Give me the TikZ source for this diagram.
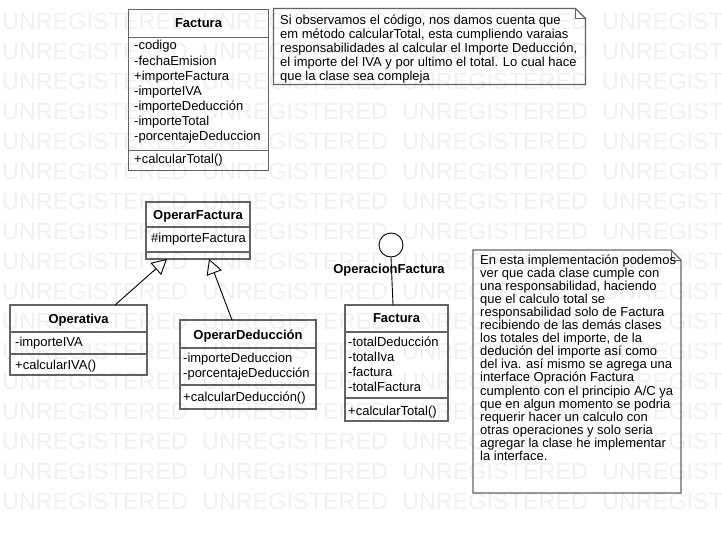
\documentclass[tikz,border=0pt]{standalone}
\usepackage{fontspec}
\setmainfont{Liberation Sans}
\usetikzlibrary{arrows.meta}
\definecolor{boxgray}{RGB}{100,100,100}
\begin{document}
\begin{tikzpicture}[x=1pt,y=-1pt,
  cls/.style={draw=boxgray, line width=1.3pt, fill=white, anchor=north west, inner sep=0pt, outer sep=0pt},
  notebox/.style={anchor=north west, inner sep=0pt, outer sep=0pt},
  notebdr/.style={draw=boxgray, line width=1.3pt, fill=white},
  sepline/.style={draw=boxgray, line width=1.3pt},
  txt/.style={anchor=base west, inner sep=0pt, font=\fontsize{13}{15}\selectfont},
  hdr/.style={anchor=base, inner sep=0pt, font=\bfseries\fontsize{13}{15}\selectfont},
  gen/.style={-{Triangle[open,fill=white,length=15pt,width=16pt]}, line width=0.9pt, black},
  lnk/.style={line width=0.9pt, black},
  wm/.style={anchor=base west, inner sep=0pt, font=\fontsize{23.4}{28}\selectfont, text=black, text opacity=0.06}]
\useasboundingbox (0,0) rectangle (722,535);
\fill[white] (0,0) rectangle (722,535);

% ---------- Factura (top) ----------
\node[cls, minimum width=140pt, minimum height=161pt] (f1) at (128.5,9.5) {};
\draw[sepline] ([yshift=-28pt]f1.north west) -- ([yshift=-28pt]f1.north east);
\draw[sepline] ([yshift=-141pt]f1.north west) -- ([yshift=-141pt]f1.north east);
\node[hdr] (f1h) at (198.5,27.5) {Factura};
\foreach \t [count=\i] in {-codigo,-fechaEmision,+importeFactura,-importeIVA,-importeDeducción,-importeTotal,-porcentajeDeduccion}
  \node[txt] (f1a\i) at (134,35+15*\i) {\t};
\node[txt] (f1m) at (134,163.5) {+calcularTotal()};

% ---------- Note 1 ----------
\node[notebox, minimum width=312pt, minimum height=76pt] (n1) at (273.5,8.5) {};
\draw[notebdr] (n1.north west) -- ([xshift=-10pt]n1.north east) -- ([yshift=-10pt]n1.north east) -- (n1.south east) -- (n1.south west) -- cycle;
\draw[boxgray, line width=0.8pt] ([xshift=-10pt]n1.north east) -- ([xshift=-10pt,yshift=-10pt]n1.north east) -- ([yshift=-10pt]n1.north east);
\foreach \t [count=\i] in {{Si observamos el código, nos damos cuenta que},{em método calcularTotal, esta cumpliendo varaias},{responsabilidades al calcular el Importe Deducción,},{el importe del IVA y por ultimo el total. Lo cual hace},{que la clase sea compleja}}
  \node[txt] (n1l\i) at (280,10.5+14*\i) {\t};

% ---------- OperarFactura ----------
\node[cls, minimum width=104pt, minimum height=57pt] (of) at (146,202) {};
\draw[sepline] ([yshift=-25pt]of.north west) -- ([yshift=-25pt]of.north east);
\draw[sepline] ([yshift=-50pt]of.north west) -- ([yshift=-50pt]of.north east);
\node[hdr] (ofh) at (198,219) {OperarFactura};
\node[txt] (ofa) at (151,242.5) {\#importeFactura};

% ---------- Operativa ----------
\node[cls, minimum width=137pt, minimum height=70pt] (opv) at (10,305) {};
\draw[sepline] ([yshift=-27pt]opv.north west) -- ([yshift=-27pt]opv.north east);
\draw[sepline] ([yshift=-49pt]opv.north west) -- ([yshift=-49pt]opv.north east);
\node[hdr] (opvh) at (78.5,323.5) {Operativa};
\node[txt] (opva) at (15,346.5) {-importeIVA};
\node[txt] (opvm) at (15,369.5) {+calcularIVA()};

% ---------- OperarDeducción ----------
\node[cls, minimum width=136pt, minimum height=89pt] (od) at (180,320) {};
\draw[sepline] ([yshift=-28pt]od.north west) -- ([yshift=-28pt]od.north east);
\draw[sepline] ([yshift=-65pt]od.north west) -- ([yshift=-65pt]od.north east);
\node[hdr] (odh) at (248,339.5) {OperarDeducción};
\node[txt] (oda1) at (183,362.5) {-importeDeduccion};
\node[txt] (oda2) at (183,377.5) {-porcentajeDeducción};
\node[txt] (odm) at (183,401.5) {+calcularDeducción()};

% ---------- Factura (bottom) ----------
\node[cls, minimum width=103pt, minimum height=116pt] (f2) at (345,305) {};
\draw[sepline] ([yshift=-27pt]f2.north west) -- ([yshift=-27pt]f2.north east);
\draw[sepline] ([yshift=-93pt]f2.north west) -- ([yshift=-93pt]f2.north east);
\node[hdr] (f2h) at (396.5,322.5) {Factura};
\foreach \t [count=\i] in {-totalDeducción,-totalIva,-factura,-totalFactura}
  \node[txt] (f2a\i) at (348,331.5+15*\i) {\t};
\node[txt] (f2m) at (348,415) {+calcularTotal()};

% ---------- Interface ----------
\node[draw=black, circle, minimum size=24pt, inner sep=0pt, line width=0.9pt, fill=white] (ifc) at (391,245) {};
\draw[lnk] (ifc.south) -- ([xshift=48pt]f2.north west);
\node[hdr] (ifl) at (389,273.5) {OperacionFactura};

% ---------- Generalizations ----------
\draw[gen] ([xshift=105pt]opv.north west) -- ([xshift=21pt]of.south west);
\draw[gen] ([xshift=52pt]od.north west) -- ([xshift=63pt]of.south west);

% ---------- Note 2 ----------
\node[notebox, minimum width=208pt, minimum height=243pt] (n2) at (473,250) {};
\draw[notebdr] (n2.north west) -- ([xshift=-10pt]n2.north east) -- ([yshift=-10pt]n2.north east) -- (n2.south east) -- (n2.south west) -- cycle;
\draw[boxgray, line width=0.8pt] ([xshift=-10pt]n2.north east) -- ([xshift=-10pt,yshift=-10pt]n2.north east) -- ([yshift=-10pt]n2.north east);
\foreach \t [count=\i] in {{En esta implementación podemos},{ver que cada clase cumple con},{una responsabilidad, haciendo},{que el calculo total se},{responsabilidad solo de Factura},{recibiendo de las demás clases},{los totales del importe, de la},{dedución del importe así como},{del iva. así mismo se agrega una},{interface Opración Factura},{cumplento con el principio A/C ya},{que en algun momento se podria},{requerir hacer un calculo con},{otras operaciones y solo seria},{agregar la clase he implementar},{la interface.}}
  \node[txt] (n2l\i) at (480,251.45+13.05*\i) {\t};

% ---------- Watermark ----------
\begin{scope}
\clip (0,0) rectangle (722,535);
\foreach \r in {0,...,16}
  \foreach \c in {0,...,3}
    \node[wm] (wm-\r-\c) at (2+200*\c,29.4+30*\r) {UNREGISTERED};
\end{scope}
\end{tikzpicture}
\end{document}
